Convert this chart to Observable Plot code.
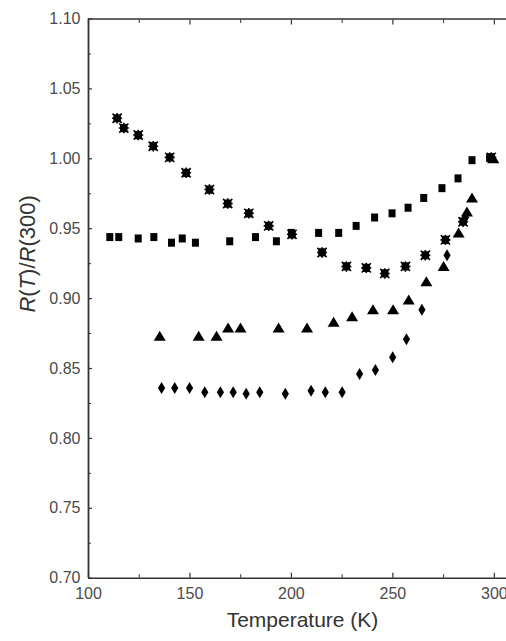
<!DOCTYPE html>
<html>
<head>
<meta charset="utf-8">
<script src="https://cdn.jsdelivr.net/npm/d3@7"></script>
<script src="https://cdn.jsdelivr.net/npm/@observablehq/plot@0.6"></script>
<style>
  html, body { margin: 0; padding: 0; background: #fff; }
</style>
</head>
<body>
<div id="chart"></div>
<script>
// ---- Data ----
const squareT = [110.5, 114.9, 124.5, 132.2, 140.9, 146.2, 152.7, 169.6, 182.3, 192.6, 200.0, 213.4, 223.3, 231.9, 241.0, 249.6, 257.5, 265.2, 274.2, 282.1, 289.0, 297.7];
const squareR = [0.944, 0.944, 0.943, 0.944, 0.940, 0.943, 0.940, 0.941, 0.944, 0.941, 0.947, 0.947, 0.947, 0.952, 0.958, 0.961, 0.965, 0.972, 0.979, 0.986, 0.999, 1.001];

const starT = [114.1, 117.4, 124.5, 131.9, 140.0, 148.1, 159.6, 168.6, 179.0, 188.8, 200.3, 215.1, 227.1, 236.9, 246.0, 256.2, 266.0, 275.9, 284.6, 298.5];
const starR = [1.029, 1.022, 1.017, 1.009, 1.001, 0.990, 0.978, 0.968, 0.961, 0.952, 0.946, 0.933, 0.923, 0.922, 0.918, 0.923, 0.931, 0.942, 0.955, 1.001];

const triT = [135.1, 154.3, 163.1, 168.8, 174.9, 193.7, 207.7, 220.8, 229.9, 240.2, 250.1, 257.8, 266.5, 275.0, 282.4, 286.5, 289.0, 299.5];
const triR = [0.873, 0.873, 0.873, 0.879, 0.879, 0.879, 0.879, 0.883, 0.887, 0.892, 0.892, 0.899, 0.912, 0.923, 0.947, 0.962, 0.972, 1.000];

const diaT = [136.0, 142.5, 149.8, 157.3, 165.0, 171.3, 177.7, 184.4, 197.0, 209.7, 216.7, 225.0, 233.6, 241.4, 249.9, 256.7, 264.3, 276.7, 285.8];
const diaR = [0.836, 0.836, 0.836, 0.833, 0.833, 0.833, 0.832, 0.833, 0.832, 0.834, 0.833, 0.833, 0.846, 0.849, 0.858, 0.871, 0.892, 0.931, 0.958];

const xMajor = [100, 150, 200, 250, 300];
const xMinor = [125, 175, 225, 275];
const yMajor = [0.70, 0.75, 0.80, 0.85, 0.90, 0.95, 1.00, 1.05, 1.10];
const yMinor = [0.725, 0.775, 0.825, 0.875, 0.925, 0.975, 1.025, 1.075];

const xTitle = "Temperature (K)";
const yTitle = "R(T)/R(300)";

const rows = (T, R) => T.map((t, i) => ({T: t, R: R[i]}));

// ---- Custom marker shapes ----
const unit = (size) => Math.sqrt(size / Math.PI); // = r given to the dot
const symSquare = {draw(ctx, size) { const u = unit(size); ctx.rect(-3.5 * u, -4 * u, 7 * u, 8 * u); }};
const symTri = {draw(ctx, size) { const u = unit(size); ctx.moveTo(0, -5.5 * u); ctx.lineTo(6 * u, 4.5 * u); ctx.lineTo(-6 * u, 4.5 * u); ctx.closePath(); }};
const symDia = {draw(ctx, size) { const u = unit(size); ctx.moveTo(0, -6 * u); ctx.lineTo(3.6 * u, 0); ctx.lineTo(0, 6 * u); ctx.lineTo(-3.6 * u, 0); ctx.closePath(); }};
const symStar = {draw(ctx, size) {
  const u = unit(size);
  ctx.rect(-3 * u, -3.3 * u, 6 * u, 6.6 * u);
  const a = 4.6 * u;
  ctx.moveTo(-a, -a); ctx.lineTo(a, a);
  ctx.moveTo(a, -a); ctx.lineTo(-a, a);
  ctx.moveTo(0, -5.2 * u); ctx.lineTo(0, 5.2 * u);
  ctx.moveTo(-5 * u, 0); ctx.lineTo(5 * u, 0);
}};

const axisColor = "#333";
const labelColor = "#4a4a4a";

const chart = Plot.plot({
  width: 506,
  height: 641,
  marginLeft: 88,
  marginRight: 0,
  marginTop: 18.5,
  marginBottom: 63.3,
  x: {domain: [100, 306], label: null},
  y: {domain: [0.70, 1.10], label: null},
  style: {fontFamily: "'Liberation Sans', Arial, sans-serif", background: "#fff", overflow: "visible"},
  marks: [
    // frame lines
    Plot.ruleY([0.70, 1.10], {stroke: axisColor, strokeWidth: 1.6}),
    Plot.ruleX([100], {stroke: axisColor, strokeWidth: 1.8}),
    // inward ticks
    Plot.axisX({ticks: xMajor, anchor: "bottom", tickSize: -5, tickFormat: () => "", stroke: axisColor, strokeWidth: 1.2}),
    Plot.axisX({ticks: xMinor, anchor: "bottom", tickSize: -3.5, tickFormat: () => "", stroke: axisColor, strokeWidth: 1}),
    Plot.axisX({ticks: xMajor, anchor: "top", tickSize: -5, tickFormat: () => "", stroke: axisColor, strokeWidth: 1.2}),
    Plot.axisX({ticks: xMinor, anchor: "top", tickSize: -3.5, tickFormat: () => "", stroke: axisColor, strokeWidth: 1}),
    Plot.axisY({ticks: yMajor, anchor: "left", tickSize: -4, tickFormat: () => "", stroke: axisColor, strokeWidth: 1.2}),
    Plot.axisY({ticks: yMinor, anchor: "left", tickSize: -3, tickFormat: () => "", stroke: axisColor, strokeWidth: 1}),
    // tick labels
    Plot.axisX({ticks: xMajor, anchor: "bottom", tickSize: 0, tickPadding: 9, fontSize: 16, fill: labelColor, tickFormat: d3.format("d")}),
    Plot.axisY({ticks: yMajor, anchor: "left", tickSize: 0, tickPadding: 8, fontSize: 16, fill: labelColor, tickFormat: d3.format(".2f")}),
    // axis titles
    Plot.text([xTitle], {text: d => d, frameAnchor: "bottom", dx: 5, dy: 49, fontSize: 21, fill: "#333"}),
    Plot.text([yTitle], {text: d => d, frameAnchor: "left", dx: -61, dy: 14, rotate: -90, fontSize: 22, fill: "#333"}),
    // data
    Plot.dot(rows(squareT, squareR), {x: "T", y: "R", symbol: symSquare, r: 1, fill: "#000", stroke: "none"}),
    Plot.dot(rows(diaT, diaR), {x: "T", y: "R", symbol: symDia, r: 1, fill: "#000", stroke: "none"}),
    Plot.dot(rows(triT, triR), {x: "T", y: "R", symbol: symTri, r: 1, fill: "#000", stroke: "none"}),
    Plot.dot(rows(starT, starR), {x: "T", y: "R", symbol: symStar, r: 1, fill: "#000", stroke: "#000", strokeWidth: 1.6})
  ]
});

// italicise R and T in the y-axis title
for (const t of chart.querySelectorAll("text")) {
  if (t.textContent === yTitle) {
    t.textContent = "";
    const parts = [["R", true], ["(", false], ["T", true], [")/", false], ["R", true], ["(300)", false]];
    for (const [s, it] of parts) {
      const ts = document.createElementNS("http://www.w3.org/2000/svg", "tspan");
      ts.textContent = s;
      if (it) ts.setAttribute("font-style", "italic");
      t.appendChild(ts);
    }
  }
}

document.getElementById("chart").appendChild(chart);
</script>
</body>
</html>
